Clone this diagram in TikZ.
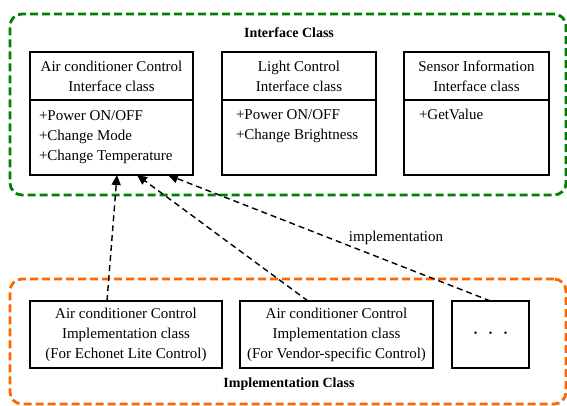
\documentclass[tikz,border=0pt]{standalone}
\usepackage{fontspec}
\setmainfont{Liberation Serif}
\usepackage{tikz}
\usetikzlibrary{arrows.meta,positioning}
\definecolor{ifgreen}{RGB}{0,128,0}
\definecolor{imorange}{RGB}{255,102,0}
\newcommand{\ACctrl}{Air conditioner Control}
\newcommand{\IFcls}{Interface class}
\newcommand{\IMcls}{Implementation class}
\newcommand{\moredot}{{\fontsize{10}{10}\selectfont\textbullet}}

\begin{document}
\begin{tikzpicture}
    [x=1pt, y=-1pt,
    every node/.style = {font=\fontsize{15}{20}\selectfont,
        inner sep=0pt, outer sep=0pt},
    clshead/.style = {draw, line width=1.2pt, anchor=north west,
        align=center, minimum height=48pt},
    clsbody/.style = {draw, line width=1.2pt, align=flush left,
        text width=#1, minimum height=75pt},
    implbox/.style = {draw, line width=1.2pt, anchor=north west,
        align=center, minimum height=67pt},
    grpframe/.style = {draw, line width=2.8pt, rounded corners=12pt,
        dash pattern=on 8pt off 4pt},
    grptitle/.style = {font=\fontsize{14}{16}\selectfont\bfseries},
    implarrow/.style = {line width=1.4pt, dash pattern=on 6pt off 4pt,
        -{Triangle[length=10pt,width=9pt]}}]

    \useasboundingbox (0,0) rectangle (567,406);

    % groups
    \node[grpframe, draw=ifgreen, minimum width=556pt, minimum height=181pt]
        (ifFrame) at (288,104.5) {};
    \node[grpframe, draw=imorange, minimum width=556pt, minimum height=125pt]
        (imFrame) at (288,341.5) {};
    \node[grptitle] (ifTitle) at (289,33) {Interface Class};
    \node[grptitle] (imTitle) at (289,384) {Implementation Class};

    % interface classes
    \node[clshead, minimum width=163pt] (acHead) at (30,52) {\ACctrl\\ \IFcls};
    \node[clsbody=145pt, inner xsep=9pt, below=0pt of acHead] (acBody)
        {+Power ON/OFF\\+Change Mode\\+Change Temperature};
    \node[clshead, minimum width=154pt] (lightHead) at (222,52) {Light Control\\ \IFcls};
    \node[clsbody=126pt, inner xsep=14pt, below=0pt of lightHead] (lightBody)
        {+Power ON/OFF\\+Change Brightness\\\strut};
    \node[clshead, minimum width=145pt] (sensorHead) at (404,52) {Sensor Information\\ \IFcls};
    \node[clsbody=115pt, inner xsep=15pt, below=0pt of sensorHead] (sensorBody)
        {+GetValue\\\strut\\\strut};

    % implementation classes
    \node[implbox, minimum width=192pt] (acEchonet) at (30,301)
        {\ACctrl\\ \IMcls\\(For Echonet Lite Control)};
    \node[implbox, minimum width=193pt] (acVendor) at (240,301)
        {\ACctrl\\ \IMcls\\(For Vendor-specific Control)};
    \node[implbox, minimum width=77pt] (otherImpl) at (452,301)
        {\moredot\hspace{11.5pt}\moredot\hspace{11.5pt}\moredot};

    \draw[implarrow] ([xshift=-19pt]acEchonet.north) -- ([xshift=5.5pt]acBody.south);
    \draw[implarrow] ([xshift=-28.5pt]acVendor.north) -- ([xshift=25.5pt]acBody.south);
    \draw[implarrow] (otherImpl.north) -- ([xshift=56.5pt]acBody.south);
    \node (implLabel) at (396,238) {implementation};
\end{tikzpicture}
\end{document}
